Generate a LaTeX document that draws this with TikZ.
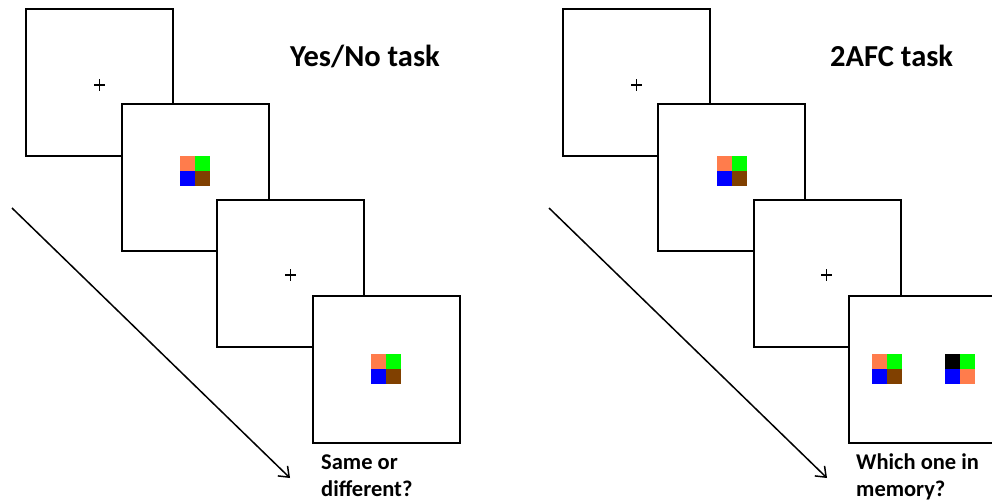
\documentclass[tikz,border=0pt]{standalone}
\usepackage{fontspec}
\setmainfont{Carlito}
\usetikzlibrary{arrows.meta}
\definecolor{cOrange}{RGB}{255,124,76}
\definecolor{cGreen}{RGB}{0,255,0}
\definecolor{cBlue}{RGB}{0,0,255}
\definecolor{cBrown}{RGB}{128,64,0}
% 2x2 colour patch: top-left corner (x,y), then colours TL, TR, BL, BR
\newcommand\colorpatch[6]{%
  \fill[#3] (#1,#2) rectangle ++(15,15);
  \fill[#4] (#1+15,#2) rectangle ++(15,15);
  \fill[#5] (#1,#2+15) rectangle ++(15,15);
  \fill[#6] (#1+15,#2+15) rectangle ++(15,15);}
% fixation cross centred at (x,y)
\newcommand\fixcross[2]{%
  \draw[fixline] (#1-5.5,#2) -- (#1+5.5,#2) (#1,#2-6) -- (#1,#2+6);}
\begin{document}
\begin{tikzpicture}[x=1pt,y=-1pt,
  screen/.style={draw=black, fill=white, line width=2pt,
    minimum width=147pt, minimum height=147pt,
    anchor=north west, inner sep=0pt, outer sep=0pt},
  timearrow/.style={line width=1.5pt,
    -{Straight Barb[length=9pt,width=14pt,line width=1.5pt]}},
  title/.style={font=\bfseries\fontsize{30.5}{36}\selectfont,
    anchor=base west, inner sep=0pt},
  question/.style={font=\bfseries\fontsize{22.5}{27}\selectfont,
    anchor=base west, align=left, inner sep=0pt},
  fixline/.style={line width=1.8pt}]
\useasboundingbox (0,0) rectangle (992,501);
\clip (0,0) rectangle (992,501);

% ---- Yes/No task ----
\node[screen] (yn1) at (26,9) {};
\fixcross{99.5}{85}
\node[screen] (yn2) at (122,104) {};
\colorpatch{180}{155.5}{cOrange}{cGreen}{cBlue}{cBrown}
\node[screen] (yn3) at (217,200) {};
\fixcross{290.5}{275}
\node[screen] (yn4) at (313,296) {};
\colorpatch{371}{354}{cOrange}{cGreen}{cBlue}{cBrown}

\node[title] (yntitle) at (290,66) {Yes/No task};
% base anchor of a multi-line node sits on its last line
\node[question] (ynq) at (321,496) {Same or\\different?};

\coordinate (ynstart) at (12,208);
\coordinate (ynend) at (290,478);
\draw[timearrow] (ynstart) -- (ynend);

% ---- 2AFC task ----
\node[screen] (af1) at (563,9) {};
\fixcross{636.5}{85}
\node[screen] (af2) at (658,104) {};
\colorpatch{717}{155.5}{cOrange}{cGreen}{cBlue}{cBrown}
\node[screen] (af3) at (754,200) {};
\fixcross{826.5}{275}
\node[screen] (af4) at (849,296) {};
\colorpatch{872}{354}{cOrange}{cGreen}{cBlue}{cBrown}
\colorpatch{945}{354}{black}{cGreen}{cBlue}{cOrange}

\node[title] (aftitle) at (830,66) {2AFC task};
\node[question] (afq) at (856,496) {Which one in\\memory?};

\coordinate (afstart) at (549,208);
\coordinate (afend) at (827,478);
\draw[timearrow] (afstart) -- (afend);
\end{tikzpicture}
\end{document}
